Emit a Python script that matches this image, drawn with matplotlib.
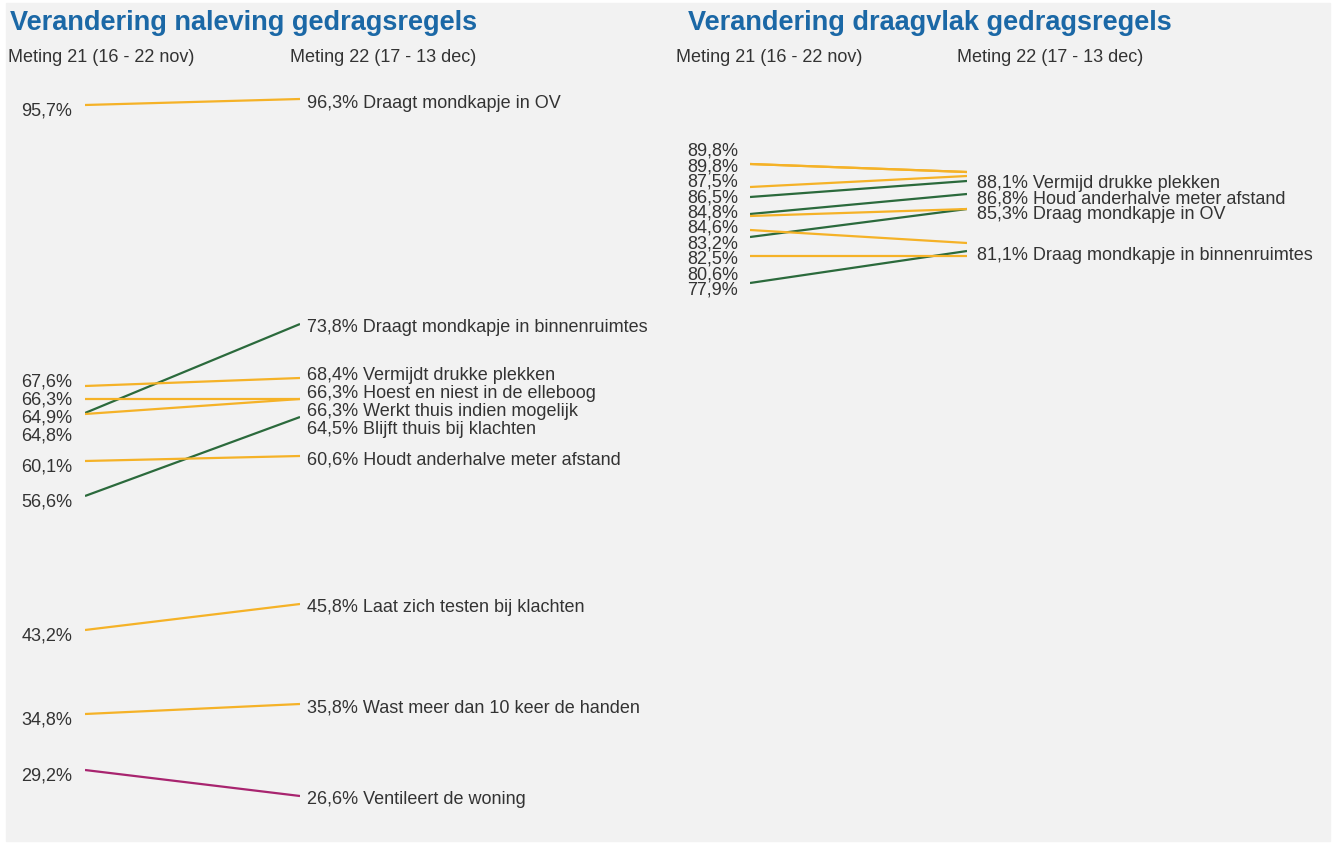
import matplotlib
matplotlib.use("Agg")
import matplotlib.pyplot as plt
from matplotlib.patches import Rectangle

plt.rcParams['font.family'] = ['Liberation Sans', 'DejaVu Sans']

# naleving (left panel)
names_l = ["Draagt mondkapje in OV", "Draagt mondkapje in binnenruimtes",
           "Vermijdt drukke plekken", "Hoest en niest in de elleboog",
           "Werkt thuis indien mogelijk", "Blijft thuis bij klachten",
           "Houdt anderhalve meter afstand", "Laat zich testen bij klachten",
           "Wast meer dan 10 keer de handen", "Ventileert de woning"]
m21_l = [95.7, 64.9, 67.6, 66.3, 64.8, 56.6, 60.1, 43.2, 34.8, 29.2]
m22_l = [96.3, 73.8, 68.4, 66.3, 66.3, 64.5, 60.6, 45.8, 35.8, 26.6]
kind_l = ["same", "up", "same", "same", "same", "up", "same", "same", "same", "down"]

# draagvlak (right panel), labels on the right only where shown
names_r = ["Vermijd drukke plekken", "Houd anderhalve meter afstand",
           "Draag mondkapje in OV", "Draag mondkapje in binnenruimtes",
           None, None, None, None, None, None]
m21_r = [86.5, 84.8, 82.5, 77.9, 89.8, 89.8, 87.5, 84.6, 83.2, 80.6]
m22_r = [88.1, 86.8, 85.3, 81.1, 89.0, 89.0, 88.6, 85.3, 81.9, 80.6]
kind_r = ["up", "up", "up", "up", "same", "same", "same", "same", "same", "same"]

colors = {"same": "#f5b227", "up": "#2b6a3c", "down": "#a8246f"}
txt = "#333333"
W, H = 1333, 845


def dodge(vals, gap):
    order = sorted(range(len(vals)), key=lambda i: -vals[i])
    groups = [[i] for i in order]
    changed = True
    while changed:
        changed = False
        for k in range(len(groups) - 1):
            a, b = groups[k], groups[k + 1]
            ca = sum(vals[i] for i in a) / len(a)
            cb = sum(vals[i] for i in b) / len(b)
            bottom_a = ca - (len(a) - 1) * gap / 2
            top_b = cb + (len(b) - 1) * gap / 2
            if bottom_a - top_b < gap:
                groups[k] = a + b
                del groups[k + 1]
                changed = True
                break
    pos = {}
    for g in groups:
        c = sum(vals[i] for i in g) / len(g)
        top = c + (len(g) - 1) * gap / 2
        for j, i in enumerate(g):
            pos[i] = top - j * gap
    return [pos[i] for i in range(len(vals))]


fig = plt.figure(figsize=(W / 100, H / 100), dpi=100, facecolor="white")
fig.patches.append(Rectangle((6 / W, 3 / H), 1324 / W, 838 / H,
                             transform=fig.transFigure, color="#f2f2f2", zorder=-5))


def panel(x0, x1, names, a, b, kinds, gap, loff, roff, title, hx):
    ax = fig.add_axes([x0 / W, 0, (x1 - x0) / W, 1])
    ax.set_xlim(0, 1)
    ax.set_ylim(96.3 - 745 / 10, 96.3 + 100 / 10)
    ax.axis("off")
    for v1, v2, k in zip(a, b, kinds):
        ax.plot([0, 1], [v1, v2], color=colors[k], lw=1.6, solid_capstyle="butt")
    for v, p in zip(a, dodge(a, gap)):
        ax.annotate(f"{v:.1f}%".replace(".", ","), xy=(0, p), xytext=(loff, -5),
                    textcoords="offset pixels", ha="right", va="center",
                    fontsize=13, color=txt)
    shown = [i for i, n in enumerate(names) if n]
    vals = [b[i] for i in shown]
    for i, p in zip(shown, dodge(vals, gap)):
        ax.annotate(f"{b[i]:.1f}% ".replace(".", ",") + names[i], xy=(1, p),
                    xytext=(roff, -3), textcoords="offset pixels", ha="left",
                    va="center", fontsize=13, color=txt)
    fig.text(hx[0] / W, 1 - 30 / H, title, fontsize=19.5, fontweight="bold",
             color="#1b68a6", va="baseline")
    fig.text(hx[1] / W, 1 - 62 / H, "Meting 21 (16 - 22 nov)", fontsize=13,
             color=txt, va="baseline")
    fig.text(hx[2] / W, 1 - 62 / H, "Meting 22 (17 - 13 dec)", fontsize=13,
             color=txt, va="baseline")


panel(85, 300, names_l, m21_l, m22_l, kind_l, 1.8, -13, 7,
      "Verandering naleving gedragsregels", (10, 8, 290))
panel(750, 967, names_r, m21_r, m22_r, kind_r, 1.54, -12, 10,
      "Verandering draagvlak gedragsregels", (688, 676, 957))

fig.savefig("out.png", dpi=100, facecolor=fig.get_facecolor())
